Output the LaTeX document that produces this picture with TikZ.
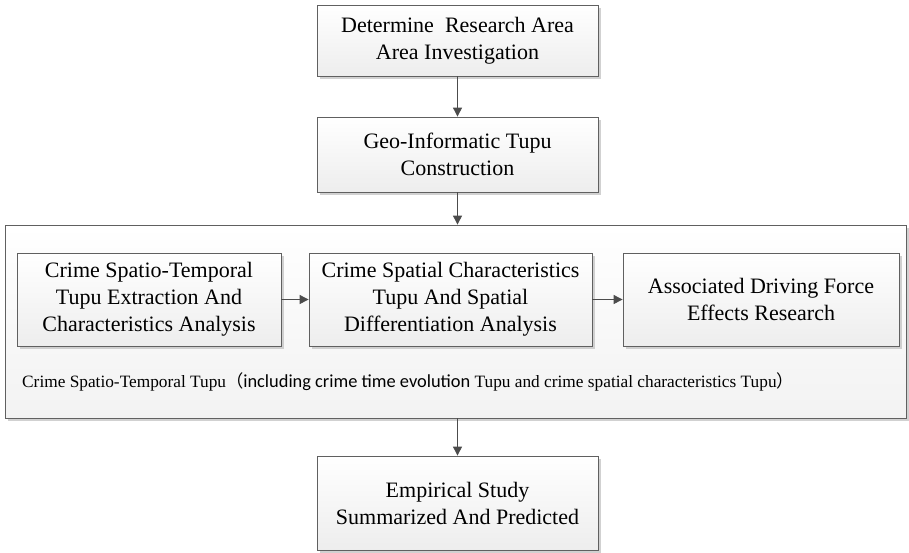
\documentclass[tikz,border=0pt]{standalone}
\usepackage{fontspec}
\setmainfont{Liberation Serif}
\newfontfamily\capsans{Carlito}
\newfontfamily\cjkfont{Noto Sans CJK SC}
\usetikzlibrary{arrows.meta,positioning,shadows}

\begin{document}
\begin{tikzpicture}[x=1pt,y=-1pt,>={Triangle[length=9pt,width=9pt]},node distance=113pt,on grid,
  stage/.style={draw=gray!75!black,line width=0.8pt,top color=white,bottom color=gray!14,
    drop shadow={shadow xshift=2.5pt,shadow yshift=-2.5pt,fill=gray!45,opacity=0.8},
    align=center,inner sep=0pt,font=\fontsize{22}{27}\selectfont},
  frame/.style={draw=gray!75!black,line width=0.8pt,top color=white,bottom color=gray!10,
    drop shadow={shadow xshift=2.5pt,shadow yshift=-2.5pt,fill=gray!45,opacity=0.8},inner sep=0pt},
  link/.style={->,draw=gray!60!black,line width=0.9pt}]
  \useasboundingbox (0,0) rectangle (909,552);

  % main column
  \node[stage,minimum width=281pt,minimum height=71pt] (area) at (457.5,40.5)
    {Determine\ \ Research Area\\Area Investigation};
  \node[stage,minimum width=281pt,minimum height=75pt] (geo) [below=114pt of area]
    {Geo-Informatic Tupu\\Construction};
  \node[frame,minimum width=901pt,minimum height=193pt] (crime) at (455.5,321.5) {};
  \node[stage,minimum width=281pt,minimum height=94pt] (study) at (457.5,503)
    {Empirical Study\\Summarized And Predicted};

  % inner row
  \node[stage,minimum width=264pt,minimum height=93pt] (extract) at (149,299.5)
    {Crime Spatio-Temporal\\Tupu Extraction And\\Characteristics Analysis};
  \node[stage,minimum width=283pt,minimum height=93pt] (spatial) at (450.5,299.5)
    {Crime Spatial Characteristics\\Tupu And Spatial\\Differentiation Analysis};
  \node[stage,minimum width=276pt,minimum height=93pt] (force) at (761,299.5)
    {Associated Driving Force\\Effects Research};

  \node[anchor=west,inner sep=0pt,font=\fontsize{17.3}{20}\selectfont] (note) at (22,382)
    {Crime Spatio-Temporal Tupu{\cjkfont （}{\capsans\fontsize{18.4}{20}\selectfont including crime time evolution} Tupu and crime spatial characteristics Tupu{\cjkfont ）}};

  \draw[link] (area) -- (geo);
  \draw[link] (geo) -- (geo |- crime.north);
  \draw[link] (crime.south -| study) -- (study);
  \draw[link] (extract) -- (spatial);
  \draw[link] (spatial) -- (force);
\end{tikzpicture}
\end{document}
